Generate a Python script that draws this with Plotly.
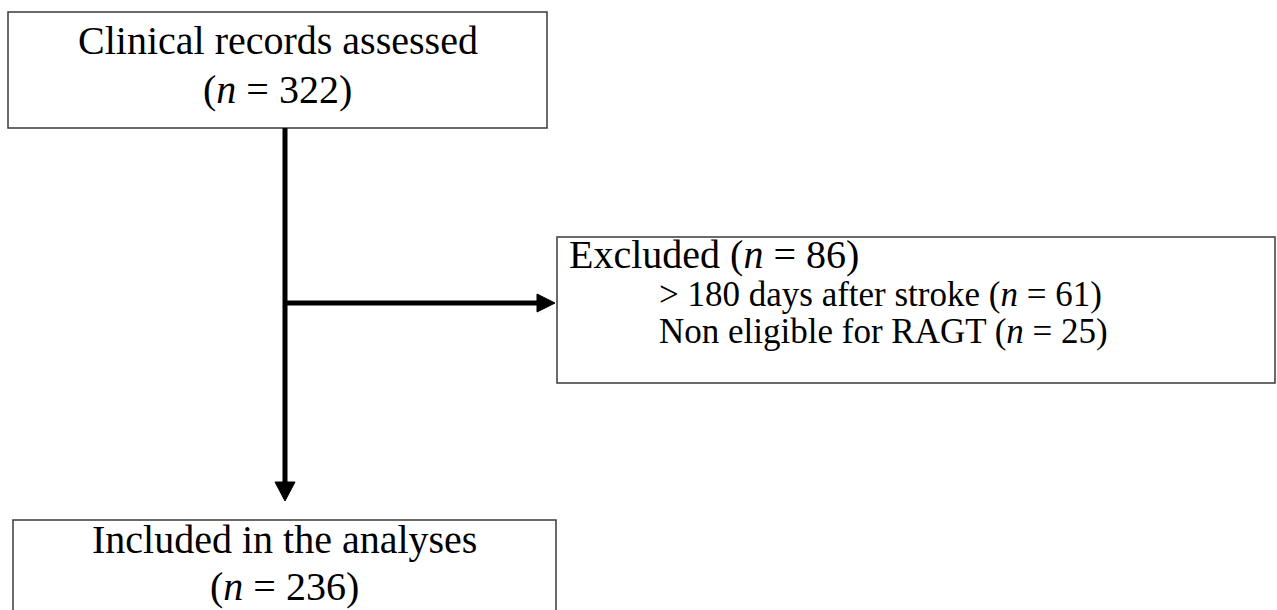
import plotly.graph_objects as go

# Flowchart data (pixel space of the 1277x610 canvas)
box_x0 = [8, 557, 13]
box_x1 = [547, 1275, 556]
box_y0 = [12, 237, 520]
box_y1 = [128, 383, 620]

text_x = [277.5, 277.5, 567, 657, 657, 284.5, 284.5]
text_y = [40, 89, 254, 294, 331, 539, 586]
text_s = ["Clinical records assessed", "(<i>n</i> = 322)",
          "Excluded (<i>n</i> = 86)",
          "&gt; 180 days after stroke (<i>n</i> = 61)",
          "Non eligible for RAGT (<i>n</i> = 25)",
          "Included in the analyses", "(<i>n</i> = 236)"]
text_size = [40, 40, 40, 35, 35, 40, 40]
text_anchor = ["center", "center", "left", "left", "left", "center", "center"]

# connectors
v_x, v_y0, v_y1 = 285, 128, 484
h_y, h_x0, h_x1 = 303, 285, 538
v_tip = 501
h_tip = 555

fig = go.Figure()
fig.add_trace(go.Scatter(x=[0, 1277], y=[0, 610], mode="markers",
                         marker=dict(opacity=0), hoverinfo="skip", showlegend=False))

shapes = []
for x0, x1, y0, y1 in zip(box_x0, box_x1, box_y0, box_y1):
    shapes.append(dict(type="rect", xref="x", yref="y", x0=x0, x1=x1, y0=y0, y1=y1,
                       line=dict(color="#3a3a3a", width=1.5), fillcolor="white", layer="below"))
shapes.append(dict(type="line", xref="x", yref="y", x0=v_x, x1=v_x, y0=v_y0, y1=v_y1,
                   line=dict(color="black", width=5)))
shapes.append(dict(type="line", xref="x", yref="y", x0=h_x0, x1=h_x1, y0=h_y, y1=h_y,
                   line=dict(color="black", width=5)))
shapes.append(dict(type="path", xref="x", yref="y",
                   path=f"M {v_x-10} {v_tip-19} L {v_x+10} {v_tip-19} L {v_x} {v_tip} Z",
                   fillcolor="black", line=dict(color="black", width=1)))
shapes.append(dict(type="path", xref="x", yref="y",
                   path=f"M {h_tip-18} {h_y-9} L {h_tip-18} {h_y+9} L {h_tip} {h_y} Z",
                   fillcolor="black", line=dict(color="black", width=1)))

annotations = []
for x, y, t, s, a in zip(text_x, text_y, text_s, text_size, text_anchor):
    annotations.append(dict(x=x, y=y, xref="x", yref="y", text=t, showarrow=False,
                            xanchor=a, yanchor="middle",
                            font=dict(family="Liberation Serif", size=s, color="black")))

fig.update_layout(
    width=1277, height=610,
    margin=dict(l=0, r=0, t=0, b=0),
    paper_bgcolor="white", plot_bgcolor="white",
    xaxis=dict(range=[0, 1277], visible=False, fixedrange=True),
    yaxis=dict(range=[610, 0], visible=False, fixedrange=True),
    shapes=shapes, annotations=annotations, showlegend=False,
)
fig.write_html("out.html", config={"displayModeBar": False},
               post_script="document.body.style.margin='0';")
